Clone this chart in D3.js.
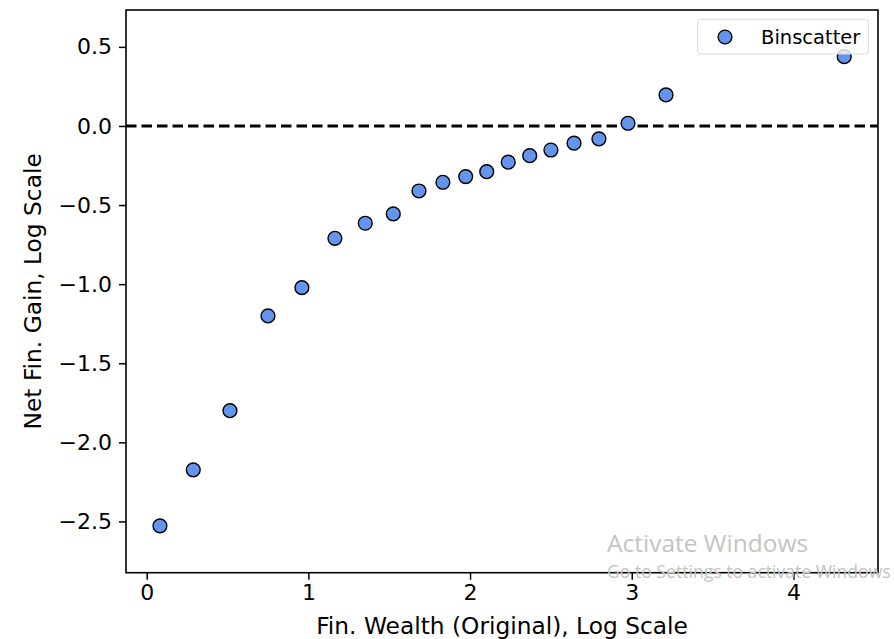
<!DOCTYPE html>
<html>
<head>
<meta charset="utf-8">
<script src="https://cdn.jsdelivr.net/npm/d3@7"></script>
<style>
  html, body { margin: 0; padding: 0; background: #fff; }
  svg { display: block; font-family: "DejaVu Sans", sans-serif; }
</style>
</head>
<body>
<svg id="chart" width="894" height="639"></svg>
<script>
// Data
const wealthLog = [0.082, 0.288, 0.515, 0.750, 0.960, 1.164, 1.352, 1.525, 1.684, 1.832,
                   1.973, 2.103, 2.236, 2.369, 2.500, 2.643, 2.797, 2.977, 3.212, 4.314];
const gainLog   = [-2.528, -2.174, -1.800, -1.201, -1.022, -0.710, -0.615, -0.556, -0.411, -0.356,
                   -0.320, -0.289, -0.229, -0.188, -0.152, -0.109, -0.082, 0.017, 0.196, 0.438];
const xTicks = [0, 1, 2, 3, 4];
const yTicks = [0.5, 0.0, -0.5, -1.0, -1.5, -2.0, -2.5];
const seriesName = "Binscatter";
const xLabel = "Fin. Wealth (Original), Log Scale";
const yLabel = "Net Fin. Gain, Log Scale";

const svg = d3.select("#chart");
const m = { left: 126, top: 10, right: 878, bottom: 572.7 };

const x = d3.scaleLinear().domain([-0.128, 4.523]).range([m.left, m.right]);
const y = d3.scaleLinear().domain([-2.824, 0.733]).range([m.bottom, m.top]);

const fmtY = v => (v < 0 ? "\u2212" : "") + Math.abs(v).toFixed(1);

// zero reference line
svg.append("line")
  .attr("x1", m.left).attr("x2", m.right)
  .attr("y1", y(0)).attr("y2", y(0))
  .attr("stroke", "#000").attr("stroke-width", 3.1)
  .attr("stroke-dasharray", "10.5,5");

// points
const pts = wealthLog.map((v, i) => ({ x: v, y: gainLog[i] }));
svg.append("g").selectAll("circle").data(pts).join("circle")
  .attr("cx", d => x(d.x)).attr("cy", d => y(d.y))
  .attr("r", 6.9)
  .attr("fill", "#6495ED")
  .attr("stroke", "#000").attr("stroke-width", 1.4);

// axes
const xAxis = svg.append("g")
  .attr("transform", `translate(0,${m.bottom})`)
  .call(d3.axisBottom(x).tickValues(xTicks).tickFormat(d3.format("d")).tickSize(7).tickPadding(5));
const yAxis = svg.append("g")
  .attr("transform", `translate(${m.left},0)`)
  .call(d3.axisLeft(y).tickValues(yTicks).tickFormat(fmtY).tickSize(7).tickPadding(7));

[xAxis, yAxis].forEach(g => {
  g.select(".domain").remove();
  g.selectAll("line").attr("stroke", "#000").attr("stroke-width", 1.5);
  g.selectAll("text").attr("fill", "#000").style("font-size", "22px").style("font-family", "DejaVu Sans");
});

// frame
svg.append("rect")
  .attr("x", m.left).attr("y", m.top)
  .attr("width", m.right - m.left).attr("height", m.bottom - m.top)
  .attr("fill", "none").attr("stroke", "#000").attr("stroke-width", 1.6);

// axis labels
svg.append("text")
  .attr("x", (m.left + m.right) / 2).attr("y", 634)
  .attr("text-anchor", "middle")
  .style("font-size", "23.3px").attr("fill", "#000")
  .text(xLabel);
svg.append("text")
  .attr("transform", `translate(41,${(m.top + m.bottom) / 2}) rotate(-90)`)
  .attr("text-anchor", "middle")
  .style("font-size", "23.3px").attr("fill", "#000")
  .text(yLabel);

// legend
const lg = svg.append("g");
lg.append("rect")
  .attr("x", 697.7).attr("y", 19.3).attr("width", 170.6).attr("height", 34.7)
  .attr("rx", 3).attr("ry", 3)
  .attr("fill", "#fff").attr("fill-opacity", 0.8)
  .attr("stroke", "#d9d9d9").attr("stroke-width", 1);
lg.append("circle")
  .attr("cx", 725).attr("cy", 37).attr("r", 6.9)
  .attr("fill", "#6495ED").attr("stroke", "#000").attr("stroke-width", 1.4);
lg.append("text")
  .attr("x", 761).attr("y", 43.5)
  .style("font-size", "19.5px").attr("fill", "#000")
  .text(seriesName);

// OS watermark seen in the reference screenshot
svg.append("text")
  .attr("x", 607).attr("y", 552)
  .style("font-family", "Open Sans").style("font-size", "24.5px")
  .attr("fill", "#c4c4c4").text("Activate Windows");
svg.append("text")
  .attr("x", 607).attr("y", 578)
  .style("font-family", "Open Sans").style("font-size", "17.6px")
  .attr("fill", "#c4c4c4").text("Go to Settings to activate Windows");
</script>
</body>
</html>
